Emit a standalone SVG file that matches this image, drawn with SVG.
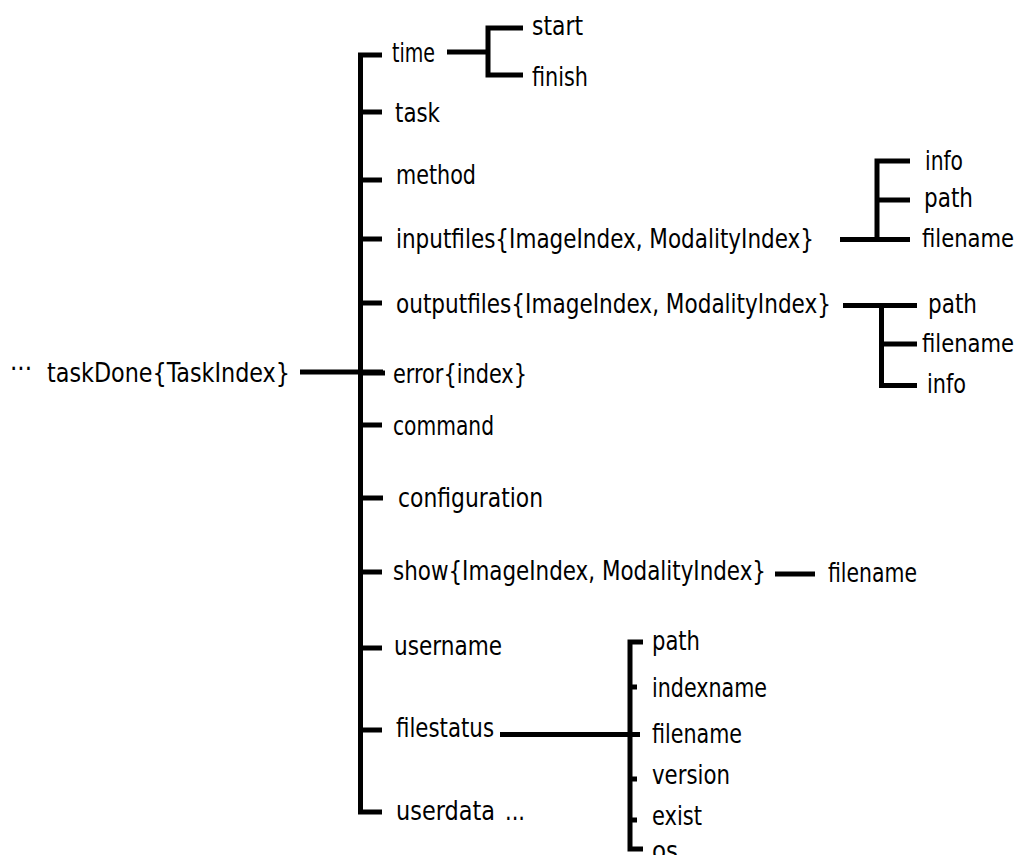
<svg xmlns="http://www.w3.org/2000/svg" width="1019" height="855" viewBox="0 0 1019 855">
<style>
.t{font-family:"DejaVu Sans Condensed","DejaVu Sans",sans-serif;font-stretch:condensed;font-size:27px;fill:#000}
.s{font-size:24px}
.c{fill:none;stroke:#000;stroke-width:5;stroke-linejoin:miter;stroke-linecap:butt}
</style>
<rect width="1019" height="855" fill="#fff"/>
<g id="connectors">
<path class="c" d="M300,372 H383"/>
<path class="c" d="M382,55 H360.5 V812 H382"/>
<path class="c" d="M360.5,112 H382 M360.5,180 H382 M360.5,239 H382 M360.5,303 H382 M360.5,373 H385 M360.5,425 H382 M360.5,498 H383 M360.5,572 H382 M360.5,648 H382 M360.5,730 H382"/>
<path class="c" d="M447,52 H488"/>
<path class="c" stroke-width="6" d="M523,28 H488 V75 H523"/>
<path class="c" d="M840,239.5 H910 M910,161 H877 V239.5 M877,200 H910"/>
<path class="c" d="M843,305.5 H917 M881.5,305.5 V385.5 H917 M881.5,344 H917"/>
<path class="c" d="M775,574 H815"/>
<path class="c" d="M500,734.5 H640"/>
<path class="c" stroke-width="6" d="M643,642 H630 V849 H643"/>
<path class="c" d="M630,687 H637 M630,779 H637 M630,820 H637"/>
</g>
<g id="root"><text class="t" x="10" y="378" textLength="22" lengthAdjust="spacingAndGlyphs">···</text><text class="t" x="47" y="382" textLength="243" lengthAdjust="spacingAndGlyphs">taskDone{TaskIndex}</text></g>
<g id="time"><text class="t" x="392" y="62" textLength="43" lengthAdjust="spacingAndGlyphs">time</text></g>
<g id="time-start"><text class="t" x="532" y="35" textLength="51" lengthAdjust="spacingAndGlyphs">start</text></g>
<g id="time-finish"><text class="t" x="532" y="86" textLength="56" lengthAdjust="spacingAndGlyphs">finish</text></g>
<g id="task"><text class="t" x="395" y="122" textLength="45" lengthAdjust="spacingAndGlyphs">task</text></g>
<g id="method"><text class="t" x="396" y="184" textLength="80" lengthAdjust="spacingAndGlyphs">method</text></g>
<g id="inputfiles"><text class="t" x="396" y="248" textLength="418" lengthAdjust="spacingAndGlyphs">inputfiles{ImageIndex, ModalityIndex}</text></g>
<g id="inputfiles-info"><text class="t" x="925" y="170" textLength="38" lengthAdjust="spacingAndGlyphs">info</text></g>
<g id="inputfiles-path"><text class="t" x="924" y="207" textLength="49" lengthAdjust="spacingAndGlyphs">path</text></g>
<g id="inputfiles-filename"><text class="t s" x="922" y="247" textLength="92" lengthAdjust="spacingAndGlyphs">filename</text></g>
<g id="outputfiles"><text class="t" x="396" y="313" textLength="435" lengthAdjust="spacingAndGlyphs">outputfiles{ImageIndex, ModalityIndex}</text></g>
<g id="outputfiles-path"><text class="t" x="928" y="313" textLength="49" lengthAdjust="spacingAndGlyphs">path</text></g>
<g id="outputfiles-filename"><text class="t s" x="922" y="352" textLength="92" lengthAdjust="spacingAndGlyphs">filename</text></g>
<g id="outputfiles-info"><text class="t" x="927" y="393" textLength="39" lengthAdjust="spacingAndGlyphs">info</text></g>
<g id="error"><text class="t" x="393" y="383" textLength="134" lengthAdjust="spacingAndGlyphs">error{index}</text></g>
<g id="command"><text class="t" x="393" y="435" textLength="101" lengthAdjust="spacingAndGlyphs">command</text></g>
<g id="configuration"><text class="t" x="398" y="507" textLength="145" lengthAdjust="spacingAndGlyphs">configuration</text></g>
<g id="show"><text class="t" x="393" y="580" textLength="373" lengthAdjust="spacingAndGlyphs">show{ImageIndex, ModalityIndex}</text></g>
<g id="show-filename"><text class="t" x="828" y="582" textLength="89" lengthAdjust="spacingAndGlyphs">filename</text></g>
<g id="username"><text class="t" x="394" y="655" textLength="108" lengthAdjust="spacingAndGlyphs">username</text></g>
<g id="filestatus"><text class="t" x="396" y="737" textLength="98" lengthAdjust="spacingAndGlyphs">filestatus</text></g>
<g id="userdata"><text class="t" x="396" y="820" textLength="99" lengthAdjust="spacingAndGlyphs">userdata</text><text class="t" x="505" y="820" textLength="20" lengthAdjust="spacingAndGlyphs">...</text></g>
<g id="filestatus-path"><text class="t" x="652" y="650" textLength="48" lengthAdjust="spacingAndGlyphs">path</text></g>
<g id="filestatus-indexname"><text class="t" x="652" y="697" textLength="115" lengthAdjust="spacingAndGlyphs">indexname</text></g>
<g id="filestatus-filename"><text class="t" x="652" y="743" textLength="90" lengthAdjust="spacingAndGlyphs">filename</text></g>
<g id="filestatus-version"><text class="t" x="652" y="784" textLength="78" lengthAdjust="spacingAndGlyphs">version</text></g>
<g id="filestatus-exist"><text class="t" x="652" y="825" textLength="50" lengthAdjust="spacingAndGlyphs">exist</text></g>
<g id="filestatus-os"><text class="t" x="652" y="860" textLength="26" lengthAdjust="spacingAndGlyphs">os</text></g>
</svg>
